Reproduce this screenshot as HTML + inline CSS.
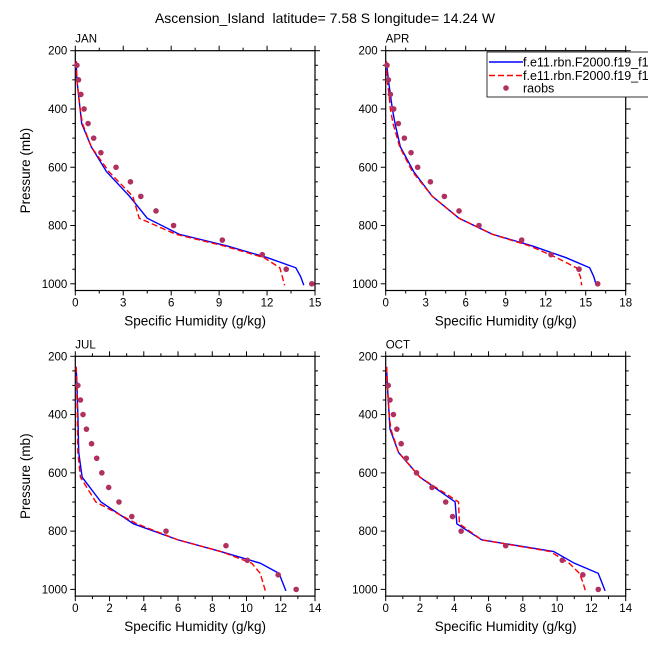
<!DOCTYPE html>
<html><head><meta charset="utf-8"><style>
html,body{margin:0;padding:0;background:#fff;}
svg{display:block;font-family:"Liberation Sans",Arial,sans-serif;}
</style></head><body>
<svg id="c" width="648" height="649" viewBox="0 0 648 649">
<text x="325" y="23" font-size="14" text-anchor="middle" xml:space="preserve">Ascension_Island  latitude= 7.58 S longitude= 14.24 W</text>
</svg>
<script>
const modelP = [236,300,350,400,450,530,615,700,775,830,870,910,945,975,1005];
const obsP = [250,300,350,400,450,500,550,600,650,700,750,800,850,900,950,1000];
const janBlue = [0.05,0.1,0.2,0.3,0.4,1.0,1.95,3.4,4.5,6.5,9.5,12.0,13.8,14.1,14.3];
const janRed  = [0.05,0.1,0.2,0.3,0.45,1.0,2.1,3.6,4.0,6.3,9.3,11.8,12.8,12.95,13.1];
const janObs  = [0.1,0.2,0.35,0.55,0.8,1.15,1.6,2.55,3.45,4.1,5.05,6.15,9.2,11.7,13.2,14.8];
const aprBlue = [0.05,0.2,0.35,0.5,0.7,1.1,2.1,3.5,5.5,8.0,11.0,13.5,15.3,15.6,15.8];
const aprRed  = [0.05,0.1,0.25,0.35,0.55,1.05,2.0,3.5,5.5,8.0,10.8,12.8,14.3,14.6,14.7];
const aprObs  = [0.1,0.2,0.35,0.6,0.95,1.4,1.9,2.4,3.35,4.4,5.5,7.0,10.2,12.4,14.5,15.9];
const julBlue = [0.05,0.1,0.12,0.15,0.17,0.2,0.4,1.5,3.4,6.0,8.5,10.8,11.9,12.1,12.3];
const julRed  = [0.05,0.08,0.1,0.12,0.13,0.15,0.3,1.2,3.6,6.0,8.5,10.3,10.8,10.95,11.1];
const julObs  = [null,0.15,0.3,0.45,0.65,0.95,1.25,1.55,1.95,2.55,3.3,5.3,8.8,10.05,11.85,12.9];
const octBlue = [0.05,0.1,0.15,0.2,0.25,0.75,2.0,4.05,4.15,5.6,9.8,11.0,12.4,12.6,12.8];
const octRed  = [0.05,0.1,0.15,0.2,0.3,0.75,2.0,4.25,4.3,5.6,9.6,10.7,11.3,11.5,11.65];
const octObs  = [null,0.15,0.25,0.45,0.65,0.9,1.2,1.8,2.7,3.5,3.9,4.4,7.0,10.3,11.5,12.4];
const panels = [
 {name:'jan',label:'JAN',x0:75.3,x1:315,y0:50.7,xmax:15,xstep:3,blue:janBlue,red:janRed,obs:janObs,ylab:true},
 {name:'apr',label:'APR',x0:385.7,x1:625.7,y0:50.7,xmax:18,xstep:3,blue:aprBlue,red:aprRed,obs:aprObs,ylab:false},
 {name:'jul',label:'JUL',x0:75.3,x1:315,y0:356.3,xmax:14,xstep:2,blue:julBlue,red:julRed,obs:julObs,ylab:true},
 {name:'oct',label:'OCT',x0:385.7,x1:625.7,y0:356.3,xmax:14,xstep:2,blue:octBlue,red:octRed,obs:octObs,ylab:false}
];
const NS='http://www.w3.org/2000/svg';
const svg=document.getElementById('c');
function mk(t,a,p){const e=document.createElementNS(NS,t);for(const k in a)e.setAttribute(k,a[k]);(p||svg).appendChild(e);return e;}
const kpy=233.1/800;
panels.forEach(pn=>{
 const g=mk('g',{});
 
 
 const sx=v=>pn.x0+(pn.x1-pn.x0)*v/pn.xmax;
 const sy=p=>pn.y0+(p-200)*kpy;
 const yb=sy(1023);
 const fr=mk('rect',{x:pn.x0,y:pn.y0,width:pn.x1-pn.x0,height:yb-pn.y0,fill:'none',stroke:'#000','stroke-width':1.2},g);
 
 
 for(let p=200;p<=1000;p+=50){
  const y=sy(p);const maj=p%200===0;
  if(maj){mk('line',{x1:pn.x0-5,x2:pn.x0,y1:y,y2:y,stroke:'#000'},g);mk('line',{x1:pn.x1,x2:pn.x1+5,y1:y,y2:y,stroke:'#000'},g);
   const t=mk('text',{x:pn.x0-8,y:y+4,'font-size':11.5,'text-anchor':'end'},g);t.textContent=p;
   
   }
  else{mk('line',{x1:pn.x0-3,x2:pn.x0,y1:y,y2:y,stroke:'#000'},g);mk('line',{x1:pn.x1,x2:pn.x1+3,y1:y,y2:y,stroke:'#000'},g);}
 }
 for(let v=0;v<=pn.xmax+1e-9;v+=pn.xstep/2){
  const x=sx(v);const maj=Math.abs(v/pn.xstep-Math.round(v/pn.xstep))<1e-6;const L=maj?5:3;
  mk('line',{x1:x,x2:x,y1:yb,y2:yb+L,stroke:'#000'},g);mk('line',{x1:x,x2:x,y1:pn.y0-L,y2:pn.y0,stroke:'#000'},g);
  if(maj){const t=mk('text',{x:x,y:yb+16,'font-size':11.5,'text-anchor':'middle'},g);t.textContent=Math.round(v);
   
   }
 }
 const lb=mk('text',{x:pn.x0,y:pn.y0-8,'font-size':11.5},g);lb.textContent=pn.label;
 
 
 const xt=mk('text',{x:(pn.x0+pn.x1)/2,y:yb+35,'font-size':13.5,'text-anchor':'middle'},g);xt.textContent='Specific Humidity (g/kg)';
 
 
 if(pn.ylab){const yt=mk('text',{x:0,y:0,'font-size':13.5,'text-anchor':'middle',transform:`translate(30,${(pn.y0+yb)/2}) rotate(-90)`},g);yt.textContent='Pressure (mb)';
  
  }
 const bl=mk('polyline',{points:modelP.map((p,i)=>sx(pn.blue[i])+','+sy(p)).join(' '),fill:'none',stroke:'#0000ff','stroke-width':1.4},g);
 
 
 const rl=mk('polyline',{points:modelP.map((p,i)=>sx(pn.red[i])+','+sy(p)).join(' '),fill:'none',stroke:'#ff0000','stroke-width':1.4,'stroke-dasharray':'6,3'},g);
 
 
 obsP.forEach((p,i)=>{const v=pn.obs[i];if(v==null)return;
  const c=mk('circle',{cx:sx(v),cy:sy(p),r:2.8,fill:'#b03060'},g);
  
  });
});
const lg=mk('g',{});


mk('rect',{x:487,y:52,width:170,height:45,fill:'#fff',stroke:'#000','stroke-width':0.8},lg);
mk('line',{x1:489,x2:523,y1:62,y2:62,stroke:'#0000ff','stroke-width':1.4},lg);
mk('line',{x1:489,x2:523,y1:75.5,y2:75.5,stroke:'#ff0000','stroke-width':1.4,'stroke-dasharray':'6,3'},lg);
mk('circle',{cx:506,cy:88,r:2.8,fill:'#b03060'},lg);
[['f.e11.rbn.F2000.f19_f19',66.5],['f.e11.rbn.F2000.f19_f19',80],['raobs',92.5]].forEach((d,i)=>{
 const t=mk('text',{x:523,y:d[1],'font-size':12.5},lg);t.textContent=d[0];
 
 
});
</script>
</body></html>
